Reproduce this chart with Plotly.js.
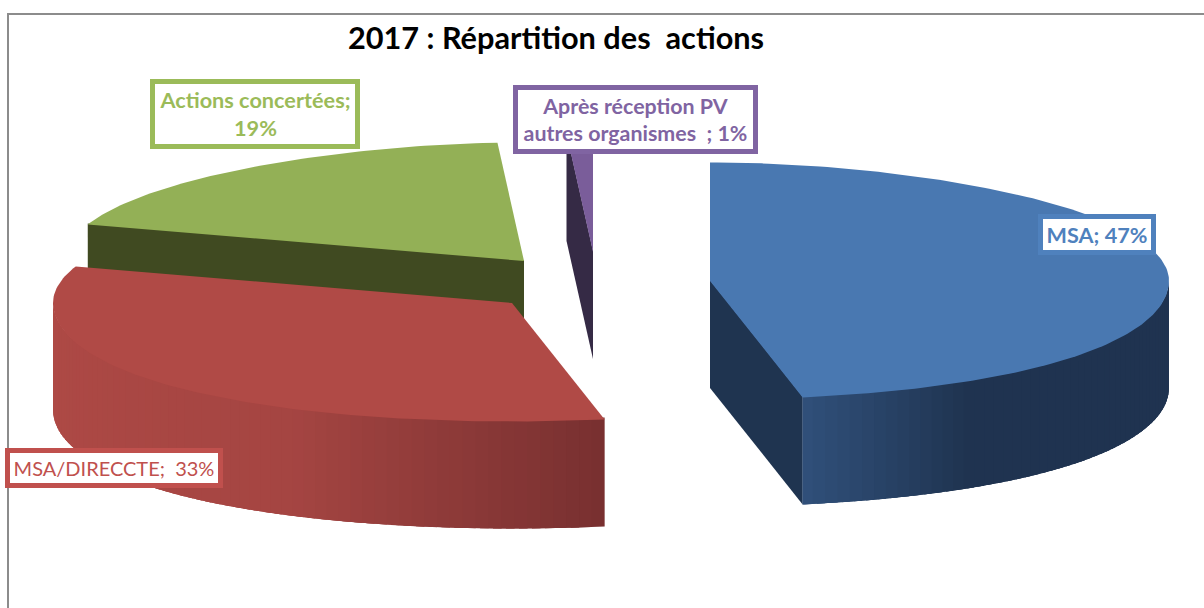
<!DOCTYPE html>
<html lang="fr">
<head>
<meta charset="utf-8">
<title>2017 : Répartition des actions</title>
<script src="https://cdn.plot.ly/plotly-3.0.1.min.js"></script>
<style>html,body{margin:0;padding:0;background:#fff;overflow:hidden}#chart{width:1204px;height:608px}</style>
</head>
<body>
<div id="chart"></div>
<script>
// ---- data
const categories = ["MSA", "MSA/DIRECCTE", "Actions concertées", "Après réception PV autres organismes"];
const shares = [47, 33, 19, 1];
const labelTexts = ["MSA; 47%", "MSA/DIRECCTE;\u00a0 33%", "Actions concertées;<br>19%", "Après réception PV<br>autres organismes\u00a0 ; 1%"];
const chartTitle = "2017 : Répartition des\u00a0 actions";

// ---- styling and placement of the exploded slices (pixel space of the hidden axes)
const apexX = [710, 512, 524, 593];
const apexY = [281, 303, 261, 252];
const topColors = ["#4978b1", "#b04a46", "#93b056", "#7a5d9a"];
const cutColors = ["#1f3450", null, "#404a21", "#352a45"];
const labelColors = ["#4f81bd", "#c0504d", "#9bbb59", "#8064a2"];
const labelX = [1097, 113.5, 255, 635.5];
const labelY = [234.5, 468, 114, 119.5];
const labelW = [108, 208, 200, 235];
const labelH = [31, 30, 60, 59];
const labelBold = [true, false, true, true];
const labelSize = [21.6, 20, 21.7, 21.4];
const radiusX = 459, radiusY = 118.5, depth = 107, perspective = 0.08;
// shading of the outer wall: [angle in degrees, colour as rgb]
const wallShade = [
  [[90, [31, 51, 80]], [148, [31, 51, 80]], [169.2, [48, 80, 122]]],
  [[169.2, [120, 48, 48]], [207, [165, 69, 66]], [270, [175, 74, 70]]]
];

const rad = d => d * Math.PI / 180;
function rim(i, deg) {
  const c = Math.cos(rad(deg)), s = Math.sin(rad(deg));
  const k = c > 0 ? 1 - perspective * Math.pow(c, 4) : 1 + perspective * c * c;
  return [apexX[i] + radiusX * s * k, apexY[i] - radiusY * c];
}
function poly(pts, color, name) {
  const closed = pts.concat([pts[0]]);
  return {
    type: "scatter", mode: "lines", fill: "toself", fillcolor: color,
    x: closed.map(p => p[0]), y: closed.map(p => p[1]),
    line: {color: color, width: 0}, hoverinfo: "skip", showlegend: false, name: name
  };
}
function shade(stops, deg) {
  for (let j = 0; j < stops.length - 1; j++) {
    const a = stops[j], b = stops[j + 1];
    if (deg >= a[0] && deg <= b[0]) {
      const t = (deg - a[0]) / (b[0] - a[0]);
      return "rgb(" + a[1].map((v, n) => Math.round(v + (b[1][n] - v) * t)).join(",") + ")";
    }
  }
  return "rgb(" + stops[0][1].join(",") + ")";
}

// slice angles from the shares
const total = shares.reduce((a, b) => a + b, 0);
const from = [], to = [];
let run = 0;
shares.forEach((v, i) => { from[i] = run / total * 360; run += v; to[i] = run / total * 360; });

function arc(i) {
  const pts = [];
  const n = Math.max(2, Math.ceil(to[i] - from[i]));
  for (let k = 0; k <= n; k++) pts.push(rim(i, from[i] + (to[i] - from[i]) * k / n));
  return pts;
}
const down = p => [p[0], p[1] + depth];
// side faces reach slightly under the top face, so no light seam shows along the shared edge
function cutFace(i, deg) {
  const a = [apexX[i], apexY[i]], r = rim(i, deg);
  return [[a[0], a[1] - 1], [r[0], r[1] - 1], down(r), down(a)];
}
// the wall is painted in overlapping strips, so no background shows between them
function wall(i, stops) {
  const lo = Math.max(from[i], 90), hi = Math.min(to[i], 270), out = [];
  for (let d = lo; d < hi; d += 1.5) {
    const e = Math.min(d + 4, hi);
    const angles = [];
    for (let q = 0; q <= 4; q++) angles.push(d + (e - d) * q / 4);
    const upper = angles.map(a => {
      const p = rim(i, a);
      return [p[0], p[1] - 2 * Math.abs(Math.cos(rad(a)))];
    });
    const lower = angles.map(a => down(rim(i, a))).reverse();
    out.push(poly(upper.concat(lower), shade(stops, d + 0.75), categories[i] + " wall"));
  }
  return out;
}

const traces = [];
// green slice (back)
traces.push(poly(cutFace(2, from[2]), cutColors[2], categories[2] + " cut"));
traces.push(poly([[apexX[2], apexY[2]]].concat(arc(2)), topColors[2], categories[2]));
// purple sliver
traces.push(poly(cutFace(3, from[3]), cutColors[3], categories[3] + " cut"));
traces.push(poly([[apexX[3], apexY[3]]].concat(arc(3)), topColors[3], categories[3]));
// red slice
wall(1, wallShade[1]).forEach(t => traces.push(t));
traces.push(poly([[apexX[1], apexY[1]]].concat(arc(1)), topColors[1], categories[1]));
// blue slice
traces.push(poly(cutFace(0, to[0]), cutColors[0], categories[0] + " cut"));
wall(0, wallShade[0]).forEach(t => traces.push(t));
traces.push(poly([[apexX[0], apexY[0]]].concat(arc(0)), topColors[0], categories[0]));

const annotations = labelTexts.map((t, i) => ({
  text: labelBold[i] ? "<b>" + t.replace("<br>", "</b><br><b>") + "</b>" : t,
  x: labelX[i], y: labelY[i], xref: "x", yref: "y",
  xanchor: "center", yanchor: "middle", showarrow: false,
  width: labelW[i], height: labelH[i], align: "center", valign: "middle",
  font: {family: "Lato, 'Open Sans', sans-serif", size: labelSize[i], color: labelColors[i]},
  bgcolor: "#ffffff", bordercolor: labelColors[i], borderwidth: 5, borderpad: 0
}));

const layout = {
  width: 1204, height: 608, margin: {l: 0, r: 0, t: 0, b: 0, pad: 0},
  paper_bgcolor: "#ffffff", plot_bgcolor: "#ffffff", showlegend: false,
  title: {
    text: "<b>" + chartTitle + "</b>", x: 556 / 1204, xref: "paper", xanchor: "center",
    y: 1 - 38 / 608, yref: "paper", yanchor: "middle",
    font: {family: "Lato, 'Open Sans', sans-serif", size: 30.7, color: "#000000"}
  },
  xaxis: {range: [0, 1204], visible: false, fixedrange: true},
  yaxis: {range: [608, 0], visible: false, fixedrange: true},
  annotations: annotations,
  shapes: [
    {type: "line", xref: "x", yref: "y", x0: 8, x1: 1204, y0: 14, y1: 14, line: {color: "#8c8c8c", width: 2}},
    {type: "line", xref: "x", yref: "y", x0: 8, x1: 8, y0: 13, y1: 608, line: {color: "#8c8c8c", width: 2}}
  ]
};
Plotly.newPlot("chart", traces, layout, {displayModeBar: false, staticPlot: true});
</script>
</body>
</html>
